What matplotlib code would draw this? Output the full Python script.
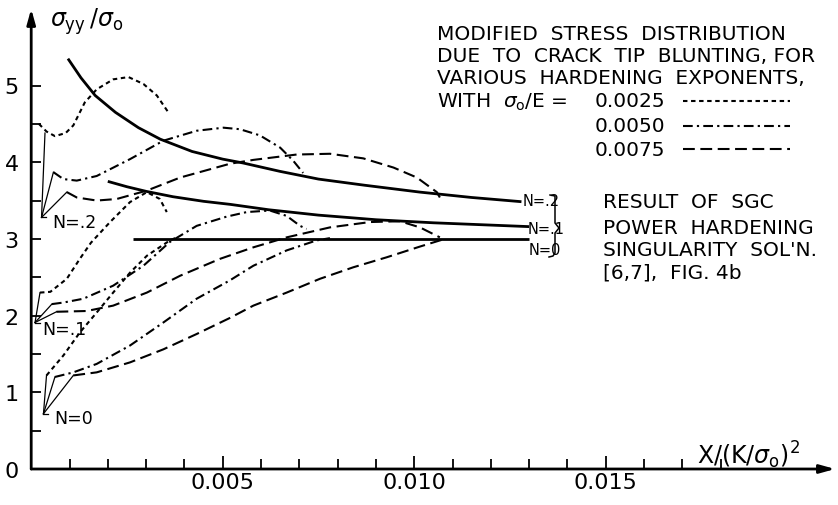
import numpy as np
import matplotlib
matplotlib.use("Agg")
import matplotlib.pyplot as plt
from matplotlib.lines import Line2D

plt.rcParams['lines.scale_dashes'] = False
plt.rcParams['font.family'] = ['DejaVu Sans']
plt.rcParams['mathtext.fontset'] = 'dejavusans'

# ---------------- data ----------------
# SGC power hardening singularity solutions
sgc2_x = [0.00096, 0.0013, 0.00167, 0.0022, 0.0028, 0.00337, 0.0042, 0.0050, 0.00553, 0.0065, 0.0075, 0.0087, 0.01015, 0.0115, 0.0128]
sgc2_y = [5.35, 5.10, 4.87, 4.65, 4.45, 4.30, 4.14, 4.04, 3.99, 3.88, 3.78, 3.70, 3.61, 3.54, 3.485]
sgc1_x = [0.0020, 0.0025, 0.0030, 0.0037, 0.0045, 0.0052, 0.0062, 0.0075, 0.0090, 0.0105, 0.0130]
sgc1_y = [3.75, 3.68, 3.62, 3.55, 3.49, 3.45, 3.38, 3.31, 3.25, 3.21, 3.16]
sgc0_x = [0.00266, 0.0130]
sgc0_y = [3.0, 3.0]

# sigma0/E = 0.0025 (dotted)
d2_x = [0.0002, 0.0004, 0.00062, 0.0009, 0.0011, 0.0014, 0.00171, 0.00214, 0.00254, 0.00293, 0.00328, 0.00358]
d2_y = [4.50, 4.40, 4.34, 4.38, 4.48, 4.78, 4.95, 5.08, 5.11, 5.02, 4.87, 4.65]
d1_x = [0.00023, 0.0005, 0.00093, 0.00127, 0.00156, 0.00206, 0.00258, 0.00302, 0.00336, 0.00354]
d1_y = [2.30, 2.31, 2.48, 2.74, 2.95, 3.22, 3.48, 3.61, 3.52, 3.35]
d0_x = [0.0004, 0.00084, 0.00127, 0.00171, 0.00214, 0.00258, 0.00302, 0.00362, 0.0038]
d0_y = [1.22, 1.48, 1.78, 2.04, 2.30, 2.56, 2.78, 2.98, 3.02]

# sigma0/E = 0.0050 (dash-dot)
dd2_x = [0.00058, 0.00084, 0.00119, 0.00171, 0.00258, 0.00345, 0.00432, 0.00502, 0.00545, 0.00597, 0.0065, 0.00684, 0.0071]
dd2_y = [3.87, 3.78, 3.76, 3.82, 4.04, 4.28, 4.41, 4.45, 4.43, 4.35, 4.19, 4.02, 3.86]
dd1_x = [0.00054, 0.00084, 0.00136, 0.00214, 0.00293, 0.00362, 0.00432, 0.0051, 0.00563, 0.00623, 0.00667, 0.00702, 0.00719]
dd1_y = [2.15, 2.17, 2.22, 2.39, 2.65, 2.96, 3.17, 3.29, 3.35, 3.37, 3.30, 3.17, 3.13]
dd0_x = [0.00062, 0.0011, 0.00171, 0.00258, 0.00345, 0.00432, 0.00519, 0.0058, 0.00667, 0.00745, 0.0078]
dd0_y = [1.20, 1.26, 1.37, 1.61, 1.91, 2.22, 2.46, 2.65, 2.85, 2.98, 3.01]

# sigma0/E = 0.0075 (dashed)
da2_x = [0.00093, 0.00119, 0.00171, 0.00223, 0.00302, 0.00389, 0.00519, 0.0058, 0.00693, 0.0078, 0.00867, 0.00946, 0.01007, 0.01059, 0.01067]
da2_y = [3.61, 3.54, 3.50, 3.52, 3.63, 3.80, 3.98, 4.03, 4.10, 4.11, 4.05, 3.93, 3.80, 3.61, 3.54]
da1_x = [0.00066, 0.00145, 0.00214, 0.00302, 0.00389, 0.00493, 0.0058, 0.00667, 0.0078, 0.00885, 0.00963, 0.01015, 0.01059, 0.01067]
da1_y = [2.05, 2.06, 2.13, 2.30, 2.52, 2.74, 2.89, 3.02, 3.15, 3.22, 3.23, 3.15, 3.04, 3.02]
da0_x = [0.0011, 0.00171, 0.00258, 0.00345, 0.00432, 0.00519, 0.0058, 0.00667, 0.00754, 0.00841, 0.00928, 0.01015, 0.0108]
da0_y = [1.22, 1.26, 1.39, 1.56, 1.76, 1.97, 2.13, 2.30, 2.48, 2.63, 2.76, 2.90, 3.00]

# leader-line vertices for N labels
n2_vertex = (0.00027, 3.28)
n1_vertex = (0.00010, 1.91)
n0_vertex = (0.00032, 0.72)

y_major = [0, 1, 2, 3, 4, 5]
y_minor = [0.5, 1.5, 2.5, 3.5, 4.5]
x_major = [0.005, 0.010, 0.015]
x_major_labels = ['0.005', '0.010', '0.015']
x_minor = [0.001, 0.002, 0.003, 0.004, 0.006, 0.007, 0.008, 0.009, 0.011, 0.012, 0.013, 0.014, 0.016, 0.017, 0.018]

# ---------------- figure ----------------
W, H = 838, 506
fig = plt.figure(figsize=(W / 100, H / 100), dpi=100)
X0, Y0 = 31.2, 470.0
SX, SY = 38300.0, 76.7
ax = fig.add_axes([X0 / W, (H - Y0) / H, (W - X0) / W, Y0 / H])
ax.set_xlim(0, (W - X0) / SX)
ax.set_ylim(0, Y0 / SY)
for s in ax.spines.values():
    s.set_visible(False)
ax.patch.set_alpha(0)

def fx(px):
    return px / W

def fy(py):
    return 1 - py / H

# axis arrows
arrow = dict(arrowstyle='-|>,head_length=0.9,head_width=0.25', lw=2.0, color='black', shrinkA=0, shrinkB=0)
ax.annotate('', xy=(0, 6.0), xytext=(0, 0), arrowprops=arrow, annotation_clip=False)
ax.annotate('', xy=(0.02099, 0), xytext=(0, 0), arrowprops=arrow, annotation_clip=False)

ax.set_yticks(y_major)
ax.set_yticks(y_minor, minor=True)
ax.set_yticklabels([str(v) for v in y_major])
ax.set_xticks(x_major)
ax.set_xticklabels(x_major_labels)
ax.set_xticks(x_minor, minor=True)
ax.tick_params(axis='y', which='both', direction='in', length=7.5, width=1.3, pad=9, labelsize=16)
ax.tick_params(axis='x', which='major', direction='in', length=9.5, width=1.3, pad=2, labelsize=16)
ax.tick_params(axis='x', which='minor', direction='in', length=7.5, width=1.3)

DOT = (0, (3.2, 2.6))
DASHDOT = (0, (7, 3, 1.6, 3))
DASH = (0, (8.5, 4))
LW = 1.5

ax.plot(sgc2_x, sgc2_y, color='black', lw=2.0, solid_capstyle='butt')
ax.plot(sgc1_x, sgc1_y, color='black', lw=2.0, solid_capstyle='butt')
ax.plot(sgc0_x, sgc0_y, color='black', lw=2.0, solid_capstyle='butt')

for xs, ys in [(d2_x, d2_y), (d1_x, d1_y), (d0_x, d0_y)]:
    ax.plot(xs, ys, color='black', lw=LW, linestyle=DOT)
for xs, ys in [(dd2_x, dd2_y), (dd1_x, dd1_y), (dd0_x, dd0_y)]:
    ax.plot(xs, ys, color='black', lw=LW, linestyle=DASHDOT)
for xs, ys in [(da2_x, da2_y), (da1_x, da1_y), (da0_x, da0_y)]:
    ax.plot(xs, ys, color='black', lw=LW, linestyle=DASH)

# leader lines
for v, targets in [(n2_vertex, [(0.00036, 4.38), (dd2_x[0], dd2_y[0]), (da2_x[0], da2_y[0])]),
                   (n1_vertex, [(d1_x[0], d1_y[0]), (dd1_x[0], dd1_y[0]), (da1_x[0], da1_y[0])]),
                   (n0_vertex, [(d0_x[0], d0_y[0]), (dd0_x[0], dd0_y[0]), (da0_x[0], da0_y[0])])]:
    for t in targets:
        ax.plot([v[0], t[0]], [v[1], t[1]], color='black', lw=0.9, clip_on=False)
    ax.plot([v[0], v[0] + 0.00012], [v[1], v[1]], color='black', lw=0.9)

lab = dict(fontsize=12.5, va='center', ha='left')
ax.text(0.00055, 3.22, 'N=.2', **lab)
ax.text(0.00030, 1.83, 'N=.1', **lab)
ax.text(0.00060, 0.66, 'N=0', **lab)

# axis titles
fig.text(fx(50), fy(22), r'$\sigma_{\mathrm{yy}}\,/\sigma_{\mathrm{o}}$', fontsize=17, ha='left', va='center')
fig.text(fx(697), fy(455), r'$\mathrm{X/(K/}\sigma_{\mathrm{o}}\mathrm{)}^{2}$', fontsize=17, ha='left', va='center')

# top-right text block
tb = dict(fontsize=14.5, ha='left', va='center')
fig.text(fx(437), fy(35), 'MODIFIED  STRESS  DISTRIBUTION', **tb)
fig.text(fx(437), fy(57), 'DUE  TO  CRACK  TIP  BLUNTING, FOR', **tb)
fig.text(fx(437), fy(79), 'VARIOUS  HARDENING  EXPONENTS,', **tb)
fig.text(fx(437), fy(102), r'WITH  $\sigma_{\mathrm{o}}$/E =', **tb)
fig.text(fx(595), fy(102), '0.0025', **tb)
fig.text(fx(595), fy(127), '0.0050', **tb)
fig.text(fx(595), fy(150), '0.0075', **tb)
for py, ls in [(102, DOT), (127, DASHDOT), (150, DASH)]:
    fig.add_artist(Line2D([fx(683), fx(790)], [fy(py), fy(py)], color='black', lw=LW,
                          linestyle=ls, transform=fig.transFigure))

# right labels
rl = dict(fontsize=10.5, ha='left', va='center')
fig.text(fx(523), fy(202), 'N=.2', **rl)
fig.text(fx(528), fy(229), 'N=.1', **rl)
fig.text(fx(529), fy(251), 'N=0', **rl)
bx = [550, 555, 555, 559, 555, 555, 553, 549]
by = [196, 197, 224, 229, 234, 254, 257, 258]
fig.add_artist(Line2D([fx(v) for v in bx], [fy(v) for v in by], color='black', lw=1.1,
                      transform=fig.transFigure))
fig.text(fx(603), fy(202), 'RESULT  OF  SGC', **tb)
fig.text(fx(603), fy(229), 'POWER  HARDENING', **tb)
fig.text(fx(603), fy(251), "SINGULARITY  SOL'N.", **tb)
fig.text(fx(603), fy(273), '[6,7],  FIG. 4b', **tb)

fig.savefig('out.png', dpi=100)
